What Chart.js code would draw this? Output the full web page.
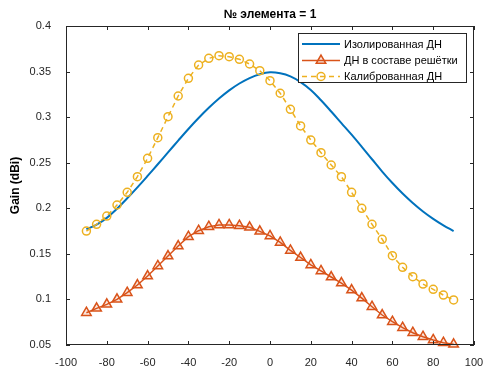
<!DOCTYPE html>
<html>
<head>
<meta charset="utf-8">
<script src="https://cdn.jsdelivr.net/npm/chart.js@4"></script>
<style>
  html, body { margin: 0; padding: 0; background: #ffffff; }
  #wrap { width: 497px; height: 385px; position: relative; }
</style>
</head>
<body>
<div id="wrap"><canvas id="c" width="497" height="385"></canvas></div>
<script>
// ---- data ----
const chartTitle = '№ элемента = 1';
const yAxisTitle = 'Gain (dBi)';
const seriesNames = ['Изолированная ДН', 'ДН в составе решётки', 'Калиброванная ДН'];
const angles = [-90, -85, -80, -75, -70, -65, -60, -55, -50, -45, -40, -35, -30, -25, -20, -15, -10, -5, 0,
                5, 10, 15, 20, 25, 30, 35, 40, 45, 50, 55, 60, 65, 70, 75, 80, 85, 90];
const isolated = [0.177, 0.182, 0.1895, 0.1995, 0.211, 0.223, 0.2355, 0.2483, 0.2613, 0.2743, 0.287, 0.299,
                  0.3102, 0.3204, 0.3294, 0.3369, 0.3429, 0.3471, 0.3493, 0.3482, 0.3448, 0.3385, 0.3298, 0.3185,
                  0.3062, 0.2935, 0.2808, 0.2675, 0.2538, 0.2403, 0.2277, 0.2162, 0.2058, 0.1965, 0.1884, 0.1813, 0.175];
const inArray = [0.0854, 0.0902, 0.0946, 0.1001, 0.1074, 0.1158, 0.1257, 0.1367, 0.1476, 0.1586, 0.1688, 0.1754,
                 0.1798, 0.1817, 0.1817, 0.1809, 0.1791, 0.1747, 0.1697, 0.1625, 0.1538, 0.146, 0.1378, 0.1313,
                 0.1246, 0.118, 0.1103, 0.1015, 0.092, 0.0829, 0.0756, 0.069, 0.0635, 0.0591, 0.0555, 0.0525, 0.0508];
const calibrated = [0.175, 0.1824, 0.1915, 0.2036, 0.2175, 0.2347, 0.2548, 0.2775, 0.3005, 0.3232, 0.3426, 0.3572,
                    0.3645, 0.3674, 0.3663, 0.3635, 0.3583, 0.351, 0.340, 0.3262, 0.3086, 0.2903, 0.2749, 0.261,
                    0.2475, 0.2347, 0.2175, 0.200, 0.1825, 0.166, 0.148, 0.1352, 0.125, 0.1169, 0.1111, 0.1048, 0.0994];
const xTickValues = [-100, -80, -60, -40, -20, 0, 20, 40, 60, 80, 100];
const xTickLabels = ['-100', '-80', '-60', '-40', '-20', '0', '20', '40', '60', '80', '100'];
const yTickValues = [0.05, 0.1, 0.15, 0.2, 0.25, 0.3, 0.35, 0.4];
const yTickLabels = ['0.05', '0.1', '0.15', '0.2', '0.25', '0.3', '0.35', '0.4'];

// ---- styles ----
const C_BLUE = '#0072BD', C_ORANGE = '#D95319', C_YELLOW = '#EDB120', C_AXIS = '#262626';
const FONT = '"Liberation Sans", Arial, Helvetica, sans-serif';

const toXY = (ys) => angles.map((a, i) => ({ x: a, y: ys[i] }));
const labelFor = (vals, labels) => (v) => {
  const i = vals.findIndex(t => Math.abs(t - v) < 1e-9);
  return i >= 0 ? labels[i] : '';
};

const frame = {
  id: 'frame',
  afterDraw(chart) {
    const { ctx, chartArea: a, scales } = chart;
    ctx.save();
    ctx.strokeStyle = C_AXIS;
    ctx.lineWidth = 1;
    ctx.strokeRect(Math.round(a.left) + 0.5, Math.round(a.top) + 0.5,
                   Math.round(a.right - a.left) - 1, Math.round(a.bottom - a.top) - 1);
    const tl = 4;
    ctx.beginPath();
    xTickValues.forEach(v => {
      const x = Math.round(scales.x.getPixelForValue(v)) + 0.5;
      ctx.moveTo(x, a.bottom); ctx.lineTo(x, a.bottom - tl);
      ctx.moveTo(x, a.top); ctx.lineTo(x, a.top + tl);
    });
    yTickValues.forEach(v => {
      const y = Math.round(scales.y.getPixelForValue(v)) + 0.5;
      ctx.moveTo(a.left, y); ctx.lineTo(a.left + tl, y);
      ctx.moveTo(a.right, y); ctx.lineTo(a.right - tl, y);
    });
    ctx.stroke();

    // title
    ctx.fillStyle = '#000';
    ctx.font = 'bold 12px ' + FONT;
    ctx.textAlign = 'center';
    ctx.textBaseline = 'middle';
    ctx.fillText(chartTitle, (a.left + a.right) / 2, a.top - 11);

    // legend
    const lx = a.right - 176, ly = a.top + 7, lw = 168, lh = 49;
    ctx.fillStyle = '#fff';
    ctx.fillRect(lx, ly, lw, lh);
    ctx.strokeStyle = C_AXIS;
    ctx.lineWidth = 1;
    ctx.strokeRect(Math.round(lx) + 0.5, Math.round(ly) + 0.5, lw, lh);
    const rows = [ly + 11, ly + 27.5, ly + 43.5];
    const x0 = lx + 4, x1 = lx + 42, xm = (x0 + x1) / 2;
    chart.data.datasets.forEach((ds, i) => {
      const y = rows[i];
      ctx.save();
      ctx.strokeStyle = ds.borderColor;
      ctx.lineWidth = ds.borderWidth;
      ctx.setLineDash(ds.borderDash || []);
      ctx.beginPath(); ctx.moveTo(x0, y); ctx.lineTo(x1, y); ctx.stroke();
      ctx.setLineDash([]);
      if (ds.pointRadius > 0) {
        ctx.fillStyle = ds.pointBackgroundColor;
        ctx.strokeStyle = ds.pointBorderColor;
        ctx.lineWidth = ds.pointBorderWidth;
        ctx.beginPath();
        const r = ds.pointRadius;
        if (ds.pointStyle === 'circle') {
          ctx.arc(xm, y, r, 0, Math.PI * 2);
        } else {
          ctx.moveTo(xm, y - r);
          ctx.lineTo(xm + r * Math.sin(Math.PI * 2 / 3), y - r * Math.cos(Math.PI * 2 / 3));
          ctx.lineTo(xm - r * Math.sin(Math.PI * 2 / 3), y - r * Math.cos(Math.PI * 2 / 3));
          ctx.closePath();
        }
        ctx.fill(); ctx.stroke();
      }
      ctx.restore();
      ctx.fillStyle = '#000';
      ctx.font = '11px ' + FONT;
      ctx.textAlign = 'left';
      ctx.textBaseline = 'middle';
      ctx.fillText(seriesNames[i], lx + 46, y + 0.5);
    });
    ctx.restore();
  }
};

new Chart(document.getElementById('c'), {
  type: 'line',
  data: {
    datasets: [
      {
        label: seriesNames[0], data: toXY(isolated), order: 2,
        borderColor: C_BLUE, borderWidth: 2, pointRadius: 0, tension: 0.4,
        fill: false, clip: false
      },
      {
        label: seriesNames[1], data: toXY(inArray), order: 1,
        borderColor: C_ORANGE, borderWidth: 1.5, tension: 0, fill: false, clip: false,
        pointStyle: 'triangle', pointRadius: 5.5, pointBorderWidth: 1.5,
        pointBorderColor: C_ORANGE, pointBackgroundColor: 'rgba(217,83,25,0.15)'
      },
      {
        label: seriesNames[2], data: toXY(calibrated), order: 0,
        borderColor: C_YELLOW, borderWidth: 1.5, borderDash: [5, 4], tension: 0, fill: false, clip: false,
        pointStyle: 'circle', pointRadius: 4, pointBorderWidth: 1.5,
        pointBorderColor: C_YELLOW, pointBackgroundColor: 'rgba(255,255,255,0)'
      }
    ]
  },
  options: {
    responsive: false,
    animation: false,
    devicePixelRatio: 1,
    layout: { padding: { top: 26, right: 23, bottom: 0, left: 0 } },
    plugins: { legend: { display: false }, title: { display: false }, tooltip: { enabled: false } },
    scales: {
      x: {
        type: 'linear', min: -100, max: 100,
        afterBuildTicks: (s) => { s.ticks = xTickValues.map(v => ({ value: v })); },
        afterFit: (s) => { s.height = 40; },
        grid: { display: false }, border: { display: false },
        ticks: {
          padding: 3, color: C_AXIS, font: { family: FONT, size: 11 },
          maxRotation: 0, autoSkip: false,
          callback: labelFor(xTickValues, xTickLabels)
        }
      },
      y: {
        type: 'linear', min: 0.05, max: 0.4,
        afterBuildTicks: (s) => { s.ticks = yTickValues.map(v => ({ value: v })); },
        afterFit: (s) => { s.width = 66; },
        grid: { display: false }, border: { display: false },
        title: {
          display: true, text: yAxisTitle, color: '#000',
          font: { family: FONT, size: 12, weight: 'bold' }, padding: { top: 8, bottom: 0 }
        },
        ticks: {
          padding: 7, color: C_AXIS, font: { family: FONT, size: 11 }, autoSkip: false,
          callback: labelFor(yTickValues, yTickLabels)
        }
      }
    }
  },
  plugins: [frame]
});
</script>
</body>
</html>
